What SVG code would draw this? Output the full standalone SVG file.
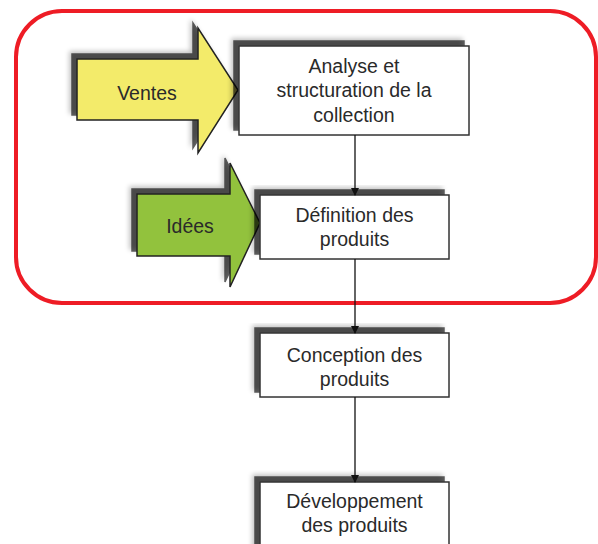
<svg xmlns="http://www.w3.org/2000/svg" width="598" height="544" viewBox="0 0 598 544">
<defs>
<filter id="sh" x="-10%" y="-15%" width="120%" height="130%">
<feGaussianBlur in="SourceAlpha" stdDeviation="2.5" result="b1"/>
<feOffset in="b1" dx="-7" dy="-7" result="o1"/>
<feComponentTransfer in="o1" result="c1"><feFuncA type="linear" slope="0.25"/></feComponentTransfer>
<feGaussianBlur in="SourceAlpha" stdDeviation="0.6" result="b2"/>
<feOffset in="b2" dx="-5" dy="-5" result="o2"/>
<feComponentTransfer in="o2" result="c2"><feFuncA type="linear" slope="0.62"/></feComponentTransfer>
<feMerge><feMergeNode in="c1"/><feMergeNode in="c2"/><feMergeNode in="SourceGraphic"/></feMerge>
</filter>
<marker id="ah" markerWidth="8" markerHeight="8" refX="7" refY="4" orient="auto" markerUnits="userSpaceOnUse">
<path d="M0,0 L8,4 L0,8 Z" fill="#111"/>
</marker>
<style>
.box{fill:#fff;stroke:#333;stroke-width:1.5;filter:url(#sh)}
.t{font-family:"Liberation Sans",Arial,sans-serif;font-size:19.5px;fill:#2a2a2a;text-anchor:middle}
.arr{stroke:#222;stroke-width:1.5;filter:url(#sh)}
.con{stroke:#111;stroke-width:1.3;fill:none;marker-end:url(#ah)}
</style>
</defs>
<rect id="frame" x="16" y="11" width="580" height="292" rx="46" ry="46" fill="none" stroke="#ee1c25" stroke-width="4"/>
<g id="ventes">
<path class="arr" d="M77,59 H198 V28 L238,90 L198,153 V120 H77 Z" fill="#f3eb6a"/>
<text class="t" x="147" y="100">Ventes</text>
</g>
<g id="idees">
<path class="arr" d="M137,194 H230 V163 L260,223 L230,287 V256 H137 Z" fill="#92c23c"/>
<text class="t" x="190" y="233">Idées</text>
</g>
<g id="analyse">
<rect class="box" x="239" y="46" width="230" height="89"/>
<text class="t" x="354" y="73">Analyse et</text>
<text class="t" x="354" y="97">structuration de la</text>
<text class="t" x="354" y="122">collection</text>
</g>
<g id="definition">
<rect class="box" x="260" y="195" width="189" height="64"/>
<text class="t" x="354.5" y="222">Définition des</text>
<text class="t" x="354.5" y="246">produits</text>
</g>
<g id="conception">
<rect class="box" x="260" y="333" width="189" height="64"/>
<text class="t" x="354.5" y="362">Conception des</text>
<text class="t" x="354.5" y="386">produits</text>
</g>
<g id="developpement">
<rect class="box" x="260" y="482" width="189" height="80"/>
<text class="t" x="354.5" y="508">Développement</text>
<text class="t" x="354.5" y="532">des produits</text>
</g>
<g id="connectors">
<line class="con" x1="355" y1="135" x2="355" y2="195"/>
<line class="con" x1="355" y1="259" x2="355" y2="333"/>
<line class="con" x1="355" y1="397" x2="355" y2="482"/>
</g>
</svg>
